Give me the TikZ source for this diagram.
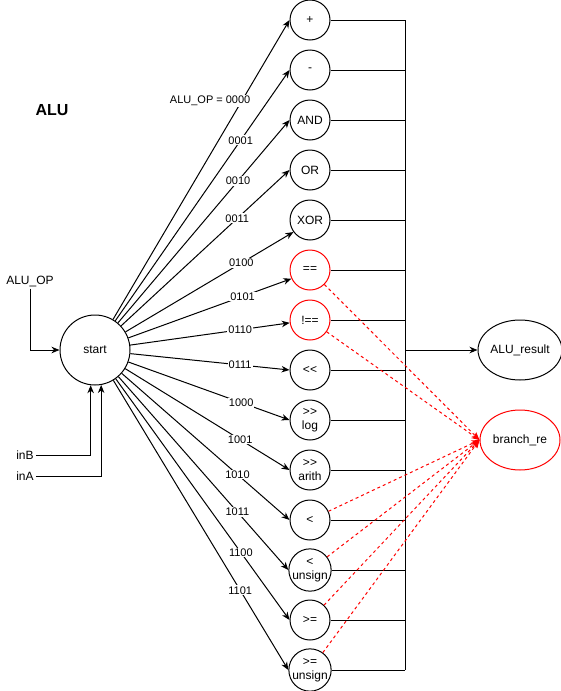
\documentclass[tikz,border=0pt]{standalone}
\usepackage{fontspec}
\setmainfont{Liberation Sans}
\usetikzlibrary{arrows.meta,positioning,calc,shapes.geometric}
\definecolor{brred}{RGB}{255,0,0}

\tikzset{
  opnode/.style={circle, draw, line width=1pt, minimum size=40pt, inner sep=0pt,
    align=center, font=\fontsize{12}{14}\selectfont},
  outnode/.style={ellipse, draw, line width=1pt, minimum width=80pt, minimum height=60pt,
    inner sep=0pt, font=\fontsize{12}{14}\selectfont},
  txt/.style={inner sep=2pt, font=\fontsize{12}{14}\selectfont},
  lbl/.style={fill=white, inner sep=1pt, font=\fontsize{11}{13}\selectfont},
  arr/.style={line width=1pt, -{Stealth[length=8pt,width=6.5pt,inset=2.5pt]}},
  brarr/.style={brred, line width=1pt, dash pattern=on 3pt off 3pt,
    -{Stealth[length=8pt,width=6.5pt,inset=2.5pt]}}
}

\begin{document}
\begin{tikzpicture}[x=1pt,y=-1pt]
    \useasboundingbox (0,0) rectangle (561,691);

    % Title
    \node[font=\fontsize{16}{18}\selectfont\bfseries] (title) at (52,110) {ALU};

    % Start state and inputs
    \node[opnode, minimum size=70pt] (start) at (95,350) {start};
    \node[txt] (aluop) at (30,281) {ALU\_OP};
    \node[txt] (inb) at (25,455) {inB};
    \node[txt] (ina) at (25,476) {inA};

    \draw[arr] (aluop) |- (start.west);
    \draw[arr] (inb.east) -| (start.-97);
    \draw[arr] (ina.east) -| (start.-80);

    % Operation states
    \foreach \name/\txt/\col [count=\i] in {plus/+/black, minus/-/black, and/AND/black,
        or/OR/black, xor/XOR/black, eq/==/brred, neq/!==/brred, sll/{<{}<}/black,
        srl/{>{}>\\log}/black, sra/{>{}>\\arith}/black, lt/</black, ltu/{<\\unsign}/black,
        ge/>=/black, geu/{>=\\unsign}/black} {
      \node[opnode, draw=\col] (\name) at (310,50*\i-30) {\txt};
    }

    % Outputs
    \coordinate (bus) at (405,350);
    \node[outnode] (result) at (520,350) {ALU\_result};
    \node[outnode, draw=brred] (branch) at (520,440) {branch\_re};

    % Transitions from start
    \draw[arr] (start) -- node[lbl, pos=0.73, anchor=east, xshift=10pt] {ALU\_OP = 0000} (plus.180);
    \foreach \name/\ang/\code/\p in {minus/180/0001/0.72, and/180/0010/0.70, or/180/0011/0.69,
        xor/216/0100/0.69, eq/205/0101/0.70, neq/188/0110/0.69, sll/180/0111/0.69,
        srl/180/1000/0.70, sra/180/1001/0.70, lt/180/1010/0.69, ltu/180/1011/0.70,
        ge/180/1100/0.72, geu/180/1101/0.725} {
      \draw[arr] (start) -- node[lbl, pos=\p] {\code} (\name.\ang);
    }

    % Result bus
    \foreach \name in {plus,minus,and,or,xor,eq,neq,sll,srl,sra,lt,ltu,ge,geu} {
      \draw[line width=1pt] (\name.east) -- (\name.east -| bus);
    }
    \draw[line width=1pt] (plus.east -| bus) -- (geu.east -| bus);
    \draw[arr] (bus) -- (result);

    % Branch outputs
    \foreach \name in {eq,neq,lt,ltu,ge,geu} {
      \draw[brarr] (\name) -- (branch.west);
    }
\end{tikzpicture}
\end{document}
